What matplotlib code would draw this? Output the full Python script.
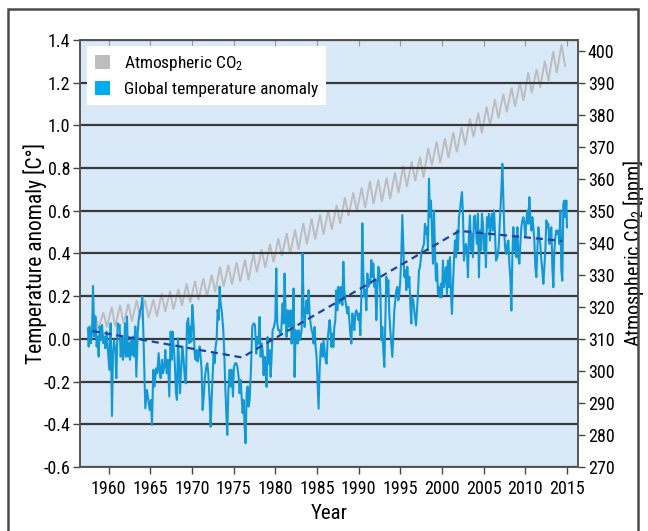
import matplotlib
matplotlib.use("Agg")
import matplotlib.pyplot as plt
from matplotlib import font_manager
from matplotlib.patches import Patch, Rectangle

# pick a narrow sans-serif face if one is installed
def narrow_font():
    wanted = ["Liberation Sans Narrow", "Roboto Condensed", "DejaVu Sans",
              "Noto Sans", "Open Sans", "Arial Narrow"]
    narrow = [f for f in font_manager.fontManager.ttflist
              if (("condensed" in str(f.stretch).lower() or "narrow" in f.name.lower()
                   or "condensed" in f.name.lower() or str(f.stretch).isdigit() and int(f.stretch) < 500)
                  and f.weight in ("normal", "regular", 400) and f.style == "normal")]
    for name in wanted:
        for f in narrow:
            if f.name == name:
                return f.name, f.stretch
    if narrow:
        return narrow[0].name, narrow[0].stretch
    return "Liberation Sans", "normal"

FONT, STRETCH = narrow_font()
plt.rcParams["font.family"] = [FONT, "DejaVu Sans"]
plt.rcParams["font.stretch"] = STRETCH
plt.rcParams["mathtext.fontset"] = "custom"
plt.rcParams["mathtext.rm"] = FONT
plt.rcParams["mathtext.it"] = FONT
plt.rcParams["mathtext.default"] = "regular"
plt.rcParams["axes.unicode_minus"] = False

# ---- Global temperature anomaly [°C] -------------------------------------
temp_year = [
    1957.52, 1957.60, 1957.72, 1957.88, 1958.00, 1958.12, 1958.28, 1958.40, 1958.56, 1958.68,
    1958.80, 1958.92, 1959.08, 1959.20, 1959.36, 1959.48, 1959.60, 1959.76, 1959.92, 1960.08,
    1960.24, 1960.40, 1960.52, 1960.64, 1960.80, 1960.92, 1961.08, 1961.20, 1961.32, 1961.44,
    1961.60, 1961.72, 1961.84, 1961.96, 1962.08, 1962.20, 1962.32, 1962.44, 1962.56, 1962.68,
    1962.80, 1962.92, 1963.04, 1963.20, 1963.32, 1963.48, 1963.60, 1963.80, 1963.92, 1964.04,
    1964.20, 1964.40, 1964.60, 1964.76, 1964.92, 1965.08, 1965.20, 1965.36, 1965.52, 1965.68,
    1965.84, 1966.00, 1966.12, 1966.24, 1966.40, 1966.52, 1966.68, 1966.80, 1966.96, 1967.12,
    1967.28, 1967.44, 1967.56, 1967.68, 1967.84, 1967.96, 1968.08, 1968.20, 1968.32, 1968.44,
    1968.56, 1968.68, 1968.84, 1969.00, 1969.16, 1969.28, 1969.40, 1969.56, 1969.68, 1969.80,
    1969.92, 1970.04, 1970.20, 1970.32, 1970.44, 1970.56, 1970.68, 1970.80, 1970.92, 1971.04,
    1971.16, 1971.28, 1971.44, 1971.56, 1971.72, 1971.84, 1971.96, 1972.12, 1972.24, 1972.36,
    1972.48, 1972.60, 1972.72, 1972.84, 1972.96, 1973.08, 1973.20, 1973.32, 1973.44, 1973.60,
    1973.76, 1973.88, 1974.00, 1974.12, 1974.24, 1974.36, 1974.52, 1974.64, 1974.76, 1974.92,
    1975.04, 1975.20, 1975.32, 1975.44, 1975.60, 1975.72, 1975.84, 1975.96, 1976.08, 1976.20,
    1976.32, 1976.44, 1976.56, 1976.68, 1976.80, 1976.92, 1977.08, 1977.24, 1977.40, 1977.56,
    1977.72, 1977.84, 1978.00, 1978.12, 1978.24, 1978.36, 1978.48, 1978.60, 1978.72, 1978.84,
    1978.96, 1979.08, 1979.20, 1979.32, 1979.44, 1979.56, 1979.68, 1979.84, 1980.00, 1980.12,
    1980.24, 1980.36, 1980.48, 1980.60, 1980.72, 1980.88, 1981.00, 1981.12, 1981.24, 1981.36,
    1981.48, 1981.60, 1981.72, 1981.84, 1981.96, 1982.08, 1982.20, 1982.32, 1982.44, 1982.56,
    1982.68, 1982.80, 1982.92, 1983.04, 1983.16, 1983.28, 1983.40, 1983.52, 1983.64, 1983.76,
    1983.88, 1984.00, 1984.12, 1984.24, 1984.36, 1984.48, 1984.60, 1984.72, 1984.84, 1984.96,
    1985.08, 1985.20, 1985.32, 1985.44, 1985.56, 1985.68, 1985.80, 1985.92, 1986.04, 1986.16,
    1986.28, 1986.40, 1986.52, 1986.61, 1986.73, 1986.85, 1986.97, 1987.09, 1987.21, 1987.33,
    1987.45, 1987.57, 1987.69, 1987.81, 1987.93, 1988.05, 1988.17, 1988.29, 1988.41, 1988.53,
    1988.65, 1988.77, 1988.89, 1989.01, 1989.13, 1989.25, 1989.37, 1989.49, 1989.61, 1989.73,
    1989.85, 1989.97, 1990.09, 1990.21, 1990.33, 1990.45, 1990.57, 1990.69, 1990.81, 1990.93,
    1991.05, 1991.17, 1991.29, 1991.41, 1991.53, 1991.65, 1991.77, 1991.89, 1992.01, 1992.13,
    1992.25, 1992.37, 1992.49, 1992.61, 1992.73, 1992.85, 1992.97, 1993.09, 1993.21, 1993.33,
    1993.45, 1993.57, 1993.69, 1993.81, 1993.93, 1994.05, 1994.17, 1994.29, 1994.41, 1994.53,
    1994.65, 1994.77, 1994.89, 1995.01, 1995.13, 1995.25, 1995.37, 1995.49, 1995.61, 1995.73,
    1995.85, 1995.97, 1996.09, 1996.21, 1996.33, 1996.41, 1996.57, 1996.73, 1996.89, 1997.01,
    1997.13, 1997.25, 1997.37, 1997.49, 1997.61, 1997.73, 1997.85, 1997.97, 1998.09, 1998.21,
    1998.33, 1998.45, 1998.57, 1998.69, 1998.81, 1998.93, 1999.05, 1999.17, 1999.29, 1999.41,
    1999.53, 1999.65, 1999.77, 1999.89, 2000.01, 2000.13, 2000.25, 2000.37, 2000.49, 2000.61,
    2000.73, 2000.85, 2000.97, 2001.09, 2001.21, 2001.33, 2001.45, 2001.57, 2001.69, 2001.81,
    2001.93, 2002.05, 2002.17, 2002.29, 2002.41, 2002.53, 2002.65, 2002.77, 2002.89, 2003.01,
    2003.13, 2003.25, 2003.37, 2003.49, 2003.61, 2003.73, 2003.85, 2003.97, 2004.09, 2004.21,
    2004.33, 2004.45, 2004.57, 2004.69, 2004.81, 2004.93, 2005.05, 2005.17, 2005.29, 2005.41,
    2005.53, 2005.65, 2005.77, 2005.89, 2006.01, 2006.13, 2006.26, 2006.38, 2006.50, 2006.66,
    2006.82, 2006.98, 2007.14, 2007.26, 2007.38, 2007.50, 2007.62, 2007.74, 2007.86, 2007.98,
    2008.10, 2008.22, 2008.34, 2008.46, 2008.58, 2008.70, 2008.82, 2008.94, 2009.06, 2009.18,
    2009.30, 2009.42, 2009.54, 2009.66, 2009.78, 2009.90, 2010.02, 2010.14, 2010.26, 2010.38,
    2010.50, 2010.62, 2010.74, 2010.86, 2010.98, 2011.10, 2011.22, 2011.34, 2011.46, 2011.58,
    2011.70, 2011.82, 2011.94, 2012.06, 2012.18, 2012.30, 2012.42, 2012.54, 2012.66, 2012.78,
    2012.90, 2013.02, 2013.14, 2013.26, 2013.38, 2013.50, 2013.62, 2013.74, 2013.86, 2013.98,
    2014.10, 2014.22, 2014.34, 2014.46, 2014.58, 2014.70, 2014.82, 2014.94, 2015.02,
]
temp_anom = [
    0.050, -0.036, 0.058, -0.020, 0.034, 0.248, 0.011, 0.105, -0.036, 0.011,
    -0.083, 0.058, -0.005, 0.066, -0.020, 0.011, -0.044, 0.034, -0.052, -0.145,
    0.073, -0.361, -0.067, -0.005, -0.052, -0.184, 0.073, 0.058, 0.066, -0.083,
    0.011, -0.098, -0.059, 0.073, -0.083, 0.105, -0.083, -0.020, -0.098, -0.005,
    -0.075, 0.011, -0.083, 0.058, -0.177, 0.027, 0.089, 0.136, 0.152, 0.198,
    -0.020, -0.325, -0.239, -0.286, -0.333, -0.286, -0.403, -0.145, -0.223, -0.138,
    -0.161, -0.067, -0.145, -0.184, -0.098, -0.161, -0.130, -0.052, -0.161, -0.098,
    -0.270, 0.034, -0.098, 0.034, -0.052, -0.130, -0.255, -0.286, 0.003, -0.098,
    -0.255, -0.161, -0.036, -0.098, -0.200, -0.208, 0.073, 0.097, -0.020, 0.058,
    -0.013, 0.159, 0.058, -0.067, -0.098, -0.052, -0.106, -0.083, -0.036, -0.083,
    -0.145, -0.333, -0.255, -0.177, -0.130, -0.114, -0.161, -0.286, -0.411, -0.286,
    -0.177, -0.067, -0.114, -0.036, -0.005, 0.136, 0.089, 0.245, 0.167, 0.120,
    0.042, -0.067, -0.223, -0.348, -0.450, -0.255, -0.145, -0.223, -0.145, -0.270,
    -0.130, -0.114, -0.114, -0.130, -0.177, -0.255, -0.192, -0.270, -0.348, -0.286,
    -0.411, -0.489, -0.255, -0.223, -0.317, -0.286, -0.145, 0.058, 0.073, 0.066,
    -0.069, 0.009, -0.022, 0.103, -0.084, -0.022, -0.053, -0.170, -0.084, -0.147,
    -0.225, 0.009, -0.116, -0.053, -0.178, -0.084, 0.041, 0.056, 0.088, 0.330,
    0.072, 0.041, 0.041, 0.025, 0.041, 0.166, 0.072, 0.306, 0.119, 0.009,
    0.134, 0.056, 0.088, 0.134, -0.022, 0.041, 0.236, -0.178, 0.041, 0.025,
    -0.022, 0.041, -0.006, 0.009, 0.041, 0.400, 0.134, 0.056, 0.134, 0.181,
    0.119, 0.228, 0.119, 0.072, 0.041, 0.025, -0.022, 0.056, -0.038, -0.084,
    -0.209, -0.327, -0.147, -0.053, -0.022, -0.084, -0.006, -0.053, -0.100, -0.116,
    -0.006, 0.041, 0.088, 0.056, -0.038, 0.025, -0.038, 0.056, 0.088, 0.228,
    0.134, 0.244, 0.166, 0.236, 0.244, 0.158, 0.361, 0.228, 0.181, 0.150,
    0.119, 0.150, 0.088, 0.025, -0.022, 0.119, 0.088, 0.041, 0.119, 0.134,
    0.119, 0.088, 0.119, 0.017, 0.197, 0.541, 0.306, 0.197, 0.228, 0.134,
    0.306, 0.244, 0.275, 0.259, 0.369, 0.291, 0.353, 0.244, 0.275, 0.088,
    0.228, 0.338, 0.322, 0.228, -0.006, 0.056, -0.053, -0.131, 0.072, 0.291,
    0.213, 0.275, 0.119, 0.041, -0.022, -0.084, 0.025, 0.134, 0.181, 0.228,
    0.244, 0.181, 0.213, 0.275, 0.384, 0.580, 0.431, 0.291, 0.322, 0.228,
    0.338, 0.244, 0.291, 0.166, 0.072, 0.195, 0.180, 0.117, 0.063, 0.133,
    0.211, 0.320, 0.336, 0.383, 0.414, 0.430, 0.445, 0.539, 0.492, 0.523,
    0.414, 0.750, 0.570, 0.648, 0.492, 0.352, 0.602, 0.414, 0.273, 0.352,
    0.211, 0.242, 0.195, 0.258, 0.195, 0.367, 0.242, 0.289, 0.336, 0.211,
    0.367, 0.242, 0.383, 0.211, 0.117, 0.258, 0.367, 0.461, 0.383, 0.508,
    0.414, 0.570, 0.602, 0.648, 0.688, 0.586, 0.367, 0.414, 0.445, 0.414,
    0.289, 0.492, 0.578, 0.414, 0.492, 0.383, 0.570, 0.578, 0.508, 0.445,
    0.586, 0.289, 0.508, 0.414, 0.586, 0.539, 0.414, 0.492, 0.336, 0.570,
    0.523, 0.586, 0.461, 0.555, 0.586, 0.508, 0.602, 0.492, 0.367, 0.383,
    0.430, 0.570, 0.695, 0.820, 0.648, 0.492, 0.414, 0.398, 0.445, 0.461,
    0.352, 0.289, 0.133, 0.383, 0.523, 0.414, 0.477, 0.383, 0.523, 0.383,
    0.352, 0.445, 0.523, 0.555, 0.570, 0.539, 0.477, 0.555, 0.602, 0.539,
    0.664, 0.570, 0.508, 0.570, 0.523, 0.461, 0.336, 0.289, 0.414, 0.523,
    0.477, 0.445, 0.367, 0.320, 0.258, 0.336, 0.414, 0.555, 0.523, 0.539,
    0.445, 0.508, 0.523, 0.336, 0.242, 0.414, 0.477, 0.508, 0.492, 0.508,
    0.445, 0.602, 0.320, 0.273, 0.633, 0.648, 0.570, 0.648, 0.523,
]

# ---- Piecewise linear temperature trend ---------------------------------
trend_year = [1958.08, 1976.0, 2002.1, 2014.45]
trend_anom = [0.037, -0.087, 0.506, 0.459]

# ---- Atmospheric CO2 [ppm]: seasonal maxima (May) and minima (Sep/Oct) ---
co2_years = list(range(1958, 2015))
co2_first = (1958.2, 315.7)
co2_peak = [
    317.5, 318.3, 320.0, 320.6, 321.0, 322.2, 322.2, 322.3, 324.2, 325.0,
    325.6, 327.3, 328.1, 328.9, 330.0, 332.5, 333.1, 333.9, 334.7, 336.7,
    338.0, 339.6, 341.4, 343.0, 344.1, 346.1, 347.6, 348.9, 350.2, 351.8,
    354.2, 355.7, 357.2, 359.3, 359.7, 360.3, 362.0, 364.1, 365.4, 366.8,
    369.6, 371.6, 372.6, 374.5, 376.1, 378.8, 380.6, 382.5, 384.8, 386.5,
    388.5, 390.2, 393.2, 394.2, 396.8, 399.8, 401.9,
]
co2_trough = [
    313.3, 313.6, 313.8, 314.8, 315.5, 316.1, 316.5, 317.0, 318.5, 319.2,
    320.3, 321.3, 322.2, 323.2, 324.6, 326.3, 327.0, 327.9, 328.3, 330.8,
    332.2, 333.9, 335.9, 336.6, 337.9, 339.6, 341.1, 342.6, 344.1, 346.0,
    348.4, 349.9, 350.9, 352.1, 352.8, 353.7, 355.6, 357.5, 359.3, 360.4,
    364.2, 364.9, 366.5, 368.3, 370.5, 373.0, 374.2, 376.7, 378.9, 380.8,
    382.6, 384.4, 386.8, 388.5, 390.6, 393.0, 395.3,
]
peak_phase, trough_phase = 0.37, 0.79

# ---- Axis ticks -----------------------------------------------------------
x_ticks = list(range(1960, 2016, 5))
temp_ticks = [-0.6, -0.4, -0.2, 0.0, 0.2, 0.4, 0.6, 0.8, 1.0, 1.2, 1.4]
co2_ticks = list(range(270, 401, 10))

co2_x = [co2_first[0]]
co2_y = [co2_first[1]]
for yr, pk, tr in zip(co2_years, co2_peak, co2_trough):
    co2_x += [yr + peak_phase, yr + trough_phase]
    co2_y += [pk, tr]

BG = "#d9e9f7"
GRID = "#3a3a3a"
BLUE = "#1398d6"
GRAY = "#bdbdbf"
NAVY = "#1b449c"

fig = plt.figure(figsize=(6.48, 5.31), dpi=100)
fig.patch.set_facecolor("white")
ax = fig.add_axes([80 / 648, 1 - 467 / 531, 498 / 648, 427 / 531])
ax2 = ax.twinx()
ax.set_zorder(ax2.get_zorder() + 1)
ax.patch.set_visible(False)
ax2.patch.set_visible(True)
ax2.patch.set_facecolor(BG)

# CO2 on the right-hand scale
ax2.plot(co2_x, co2_y, color=GRAY, lw=1.4, solid_joinstyle="miter")
ax2.set_ylim(270, 270 + 2.0 / 0.015)
ax2.set_yticks(co2_ticks)
ax2.set_yticklabels([str(v) for v in co2_ticks])
ax2.tick_params(axis="y", direction="out", length=5, width=1, color="#444",
                labelsize=13, pad=2)
ax2.set_ylabel("Atmospheric CO$_2$ [ppm]", fontsize=14.5, labelpad=5)

# temperature on the left-hand scale
ax.set_xlim(1956.56, 2016.34)
ax.set_ylim(-0.6, 1.4)
ax.set_yticks(temp_ticks)
ax.set_yticklabels([f"{v:.1f}" for v in temp_ticks])
ax.grid(axis="y", color=GRID, lw=1.6, zorder=0)
ax.set_axisbelow(True)
ax.plot(temp_year, temp_anom, color=BLUE, lw=1.5, zorder=3)
ax.plot(trend_year, trend_anom, color=NAVY, lw=1.6, ls=(0, (3.2, 2.2)), zorder=4)

ax.set_xticks(x_ticks)
ax.set_xticklabels([str(v) for v in x_ticks])
ax.tick_params(axis="x", direction="out", length=5, width=1, color="#444",
               labelsize=13, pad=4)
ax.tick_params(axis="y", direction="out", length=5, width=1, color="#444",
               labelsize=13, pad=2)
top = ax.secondary_xaxis("top")
top.set_xticks(x_ticks)
top.tick_params(direction="in", length=4, color="#999", labeltop=False)
top.spines["top"].set_visible(False)

for a in (ax, ax2):
    for s in a.spines.values():
        s.set_color("#555")
        s.set_linewidth(1.2)

ax.set_xlabel("Year", fontsize=15, labelpad=4.5)
ax.set_ylabel("Temperature anomaly [C°]", fontsize=15.5, labelpad=-3)

handles = [Patch(facecolor=GRAY, edgecolor="none"),
           Patch(facecolor="#00aeef", edgecolor="none")]
leg = ax.legend(handles, ["Atmospheric CO$_2$", "Global temperature anomaly"],
                loc="upper left", bbox_to_anchor=(0.014, 0.985), fontsize=12.5,
                frameon=True, fancybox=False, framealpha=1, edgecolor="none",
                facecolor="white", handlelength=0.9, handleheight=0.9,
                handletextpad=0.8, labelspacing=0.45, borderpad=0.45,
                borderaxespad=0)

# outer frame around the figure
fig.add_artist(Rectangle((8 / 648, -0.05), (638 - 8) / 648, 1 - 8.5 / 531 + 0.05,
                         transform=fig.transFigure, fill=False, lw=1.8,
                         edgecolor="#4a4a4a"))

fig.savefig("out.png", dpi=100)
